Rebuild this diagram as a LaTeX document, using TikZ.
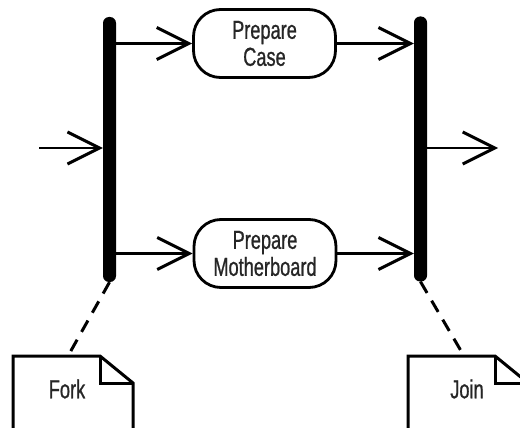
\documentclass[tikz,border=0pt]{standalone}
\usepackage{fontspec}
\newfontfamily\cond[FakeStretch=0.7,FakeBold=0.8]{Liberation Sans}
\usetikzlibrary{arrows.meta}
\begin{document}
\begin{tikzpicture}[x=1pt,y=-1pt,
  txt/.style={font=\cond\fontsize{26}{27}\selectfont, text=black!85, align=center, inner sep=0pt},
  action/.style={txt, draw, line width=2.8pt, rounded corners=27pt, minimum width=142pt, minimum height=68pt},
  bar/.style={fill=black, draw=none, rounded corners=6pt, minimum width=13pt, minimum height=265pt, inner sep=0pt},
  flow/.style={line width=2.6pt, -{Straight Barb[length=32pt,width=32pt,line width=3pt]}},
  notelink/.style={line width=3pt, dash pattern=on 13pt off 9pt},
  noteshape/.style={line width=3pt, line join=miter}]
\useasboundingbox (0,0) rectangle (520,428);
\fill[white] (0,0) rectangle (520,428);

\node[bar] (fork) at (109.5,149.5) {};
\node[bar] (join) at (420.5,149) {};
\node[action] (case) at (264.5,43.5) {Prepare\\Case};
\node[action] (mb) at (265,253.5) {Prepare\\Motherboard};

\coordinate (in) at (39,148);
\coordinate (out) at (498,148);

\draw[flow] (in) -- (in -| fork.west);
\draw[flow] (fork.east |- case.west) -- (case.west);
\draw[flow] (fork.east |- mb.west) -- (mb.west);
\draw[flow] (case.east) -- (case.east -| join.west);
\draw[flow] (mb.east) -- (mb.east -| join.west);
\draw[flow] (join.east |- out) -- (out);

% notes
\begin{scope}
\clip (0,0) rectangle (520,428);
\draw[noteshape] (13,440) -- (13,356) -- (100,356) -- (133,383) -- (133,440);
\draw[noteshape] (100,356) -- (100,383) -- (133,383);
\draw[noteshape] (408,440) -- (408,356) -- (495,356) -- (528,383) -- (528,440);
\draw[noteshape] (495,356) -- (495,383) -- (528,383);
\end{scope}
\node[txt] (forktext) at (67,389) {Fork};
\node[txt] (jointext) at (467,389) {Join};
\coordinate (forktop) at (68,356);
\coordinate (jointop) at (464,356);

\draw[notelink] (fork.south) -- (forktop);
\draw[notelink] (join.south) -- (jointop);
\end{tikzpicture}
\end{document}
